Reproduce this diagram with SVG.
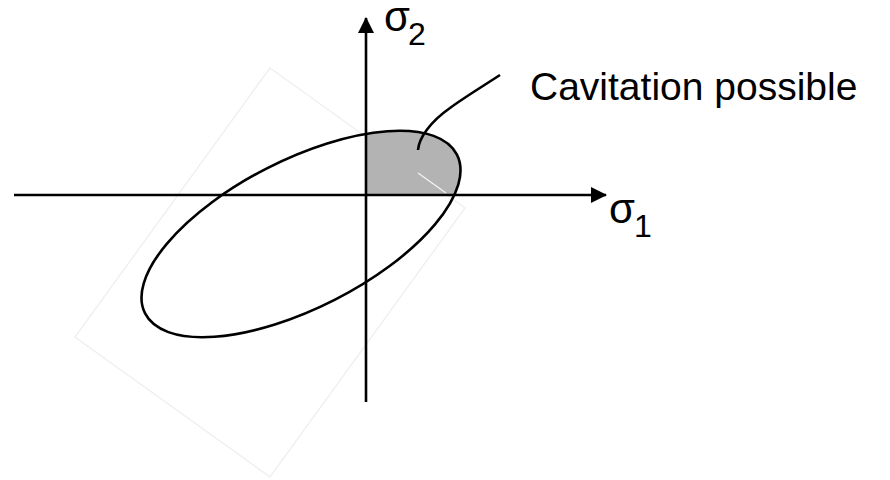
<svg xmlns="http://www.w3.org/2000/svg" width="890" height="480" viewBox="0 0 890 480">
<style>
.ln{fill:none;stroke:#000;stroke-width:2.6}
.lbl{font-family:"Liberation Sans",Arial,sans-serif;fill:#000}
</style>
<defs>
<marker id="ah" viewBox="0 0 16 16" refX="15" refY="8" markerWidth="16" markerHeight="16" markerUnits="userSpaceOnUse" orient="auto">
<path d="M0,0 L16,8 L0,16 Z" fill="#000"/>
</marker>
<clipPath id="q1"><rect x="366" y="0" width="524" height="195"/></clipPath>
</defs>
<rect width="890" height="480" fill="#fff"/>
<g id="faint-frame">
<polygon points="270,68 465,208 270,477 75,337" fill="none" stroke="#f0f0f0" stroke-width="1.5"/>
</g>
<g id="cavitation-region">
<g clip-path="url(#q1)">
<ellipse cx="301" cy="234" rx="175" ry="74" transform="rotate(-27 301 234)" fill="#b3b3b3"/>
</g>
<line x1="418" y1="173" x2="446" y2="193" stroke="#fff" stroke-width="1.3" opacity="0.85"/>
</g>
<g id="ellipse">
<ellipse class="ln" cx="301" cy="234" rx="175" ry="74" transform="rotate(-27 301 234)"/>
</g>
<g id="connectors">
<line class="ln" x1="14" y1="195" x2="606" y2="195" marker-end="url(#ah)"/>
<line class="ln" x1="366" y1="402" x2="366" y2="18" marker-end="url(#ah)"/>
<path class="ln" d="M418,150 C419,138 430,122 450,108 C462,99 480,88 500,75"/>
</g>
<g id="label-sigma2">
<text class="lbl" x="384" y="31" font-size="42">σ</text>
<text class="lbl" x="408" y="45" font-size="32">2</text>
</g>
<g id="label-sigma1">
<text class="lbl" x="609" y="223" font-size="42">σ</text>
<text class="lbl" x="634" y="237" font-size="32">1</text>
</g>
<g id="label-cavitation">
<text class="lbl" x="530" y="100" font-size="39">Cavitation possible</text>
</g>
</svg>
